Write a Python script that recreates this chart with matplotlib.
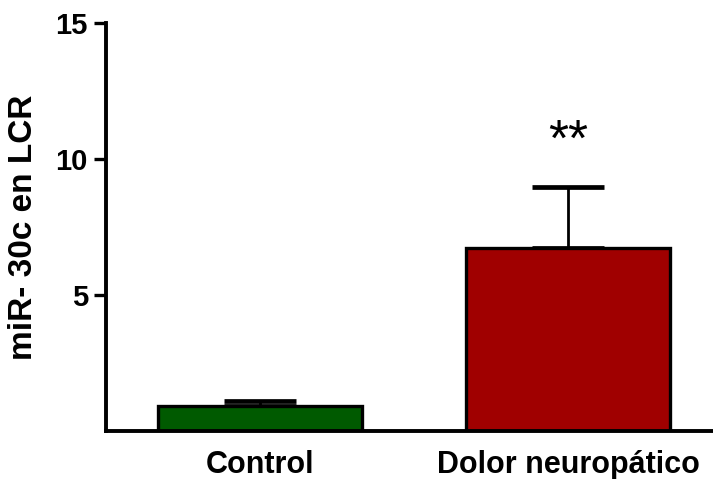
import matplotlib
matplotlib.use("Agg")
import matplotlib.pyplot as plt

categories = ["Control", "Dolor neuropático"]
means = [0.93, 6.71]
errors = [0.18, 2.25]
colors = ["#005a00", "#a00000"]
yticks = [5, 10, 15]
significance = ["", "**"]

plt.rcParams["font.family"] = ["Liberation Sans", "DejaVu Sans"]
plt.rcParams["font.weight"] = "bold"

fig = plt.figure(figsize=(7.13, 4.79), dpi=100)
ax = fig.add_axes([0.1487, 0.1002, 0.8513, 0.8524])

x = list(range(len(categories)))
ax.bar(x, means, width=0.662, color=colors, edgecolor="black", linewidth=2.4, zorder=2)
# upper error bars only
ax.errorbar(x, means, yerr=[[0] * len(means), errors], fmt="none", ecolor="black",
            elinewidth=2.0, capsize=26, capthick=3.4, zorder=1)
for xi, m, e, s in zip(x, means, errors, significance):
    if s:
        ax.text(xi, m + e + 0.75, s, ha="center", va="bottom", fontsize=37,
                fontweight="normal")

ax.set_xlim(-0.5, 1.47)
ax.set_ylim(0, 15)
ax.set_yticks(yticks)
ax.set_xticks(x)
ax.set_xticklabels(categories, fontsize=22, fontweight="bold")
ax.tick_params(axis="y", labelsize=21, width=2.4, length=9, direction="out", pad=4)
ax.tick_params(axis="x", length=0, pad=14)
ax.set_ylabel("miR- 30c en LCR", fontsize=24, fontweight="bold", labelpad=12)
for side in ["top", "right"]:
    ax.spines[side].set_visible(False)
for side in ["left", "bottom"]:
    ax.spines[side].set_linewidth(2.8)

fig.savefig("out.png", dpi=100)
